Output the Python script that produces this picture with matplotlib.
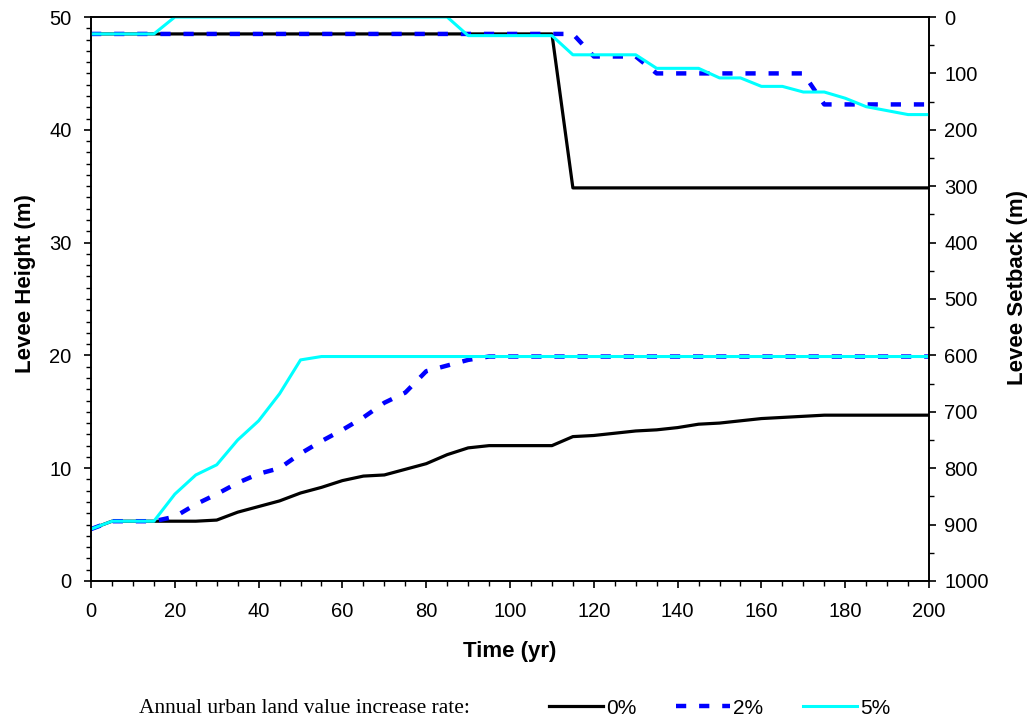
import matplotlib
matplotlib.use("Agg")
import matplotlib.pyplot as plt
from matplotlib.ticker import MultipleLocator
from matplotlib.lines import Line2D

years = list(range(0, 201, 5))

# Levee height (m), left axis
height_0 = [4.6, 5.3, 5.3, 5.3, 5.3, 5.3, 5.4, 6.1, 6.6, 7.1, 7.8, 8.3, 8.9, 9.3, 9.4, 9.9, 10.4,
            11.2, 11.8, 12.0, 12.0, 12.0, 12.0, 12.8, 12.9, 13.1, 13.3, 13.4, 13.6, 13.9, 14.0,
            14.2, 14.4, 14.5, 14.6, 14.7, 14.7, 14.7, 14.7, 14.7, 14.7]
height_2 = [4.6, 5.3, 5.3, 5.3, 5.7, 6.8, 7.7, 8.7, 9.5, 10.0, 11.3, 12.4, 13.4, 14.5, 15.8, 16.7,
            18.6, 19.1, 19.6, 19.9] + [19.9] * 21
height_5 = [4.6, 5.3, 5.3, 5.3, 7.7, 9.4, 10.3, 12.5, 14.2, 16.6, 19.6] + [19.9] * 30

# Levee setback (m), right axis (inverted)
setback_0 = [30] * 23 + [303] * 18
setback_2 = [30] * 24 + [70] * 3 + [100] * 8 + [155] * 6
setback_5 = ([30] * 4 + [0] * 14 + [33] * 5 + [67] * 4 + [91] * 3 + [108] * 2 + [123] * 2 +
             [133] * 2 + [144, 159, 166, 173, 173])

labels = ["0%", "2%", "5%"]
colors = ["black", "#0000FF", "#00FFFF"]

plt.rcParams["font.family"] = ["Liberation Sans", "DejaVu Sans"]

fig = plt.figure(figsize=(10.31, 7.21), dpi=100)
ax = fig.add_axes([0.0883, 0.1942, 0.8128, 0.7822])
ax2 = ax.twinx()

dash = (0, (2.3, 2.9))
styles = [dict(color=colors[0], lw=2.3),
          dict(color=colors[1], lw=3.2, linestyle=dash),
          dict(color=colors[2], lw=2.2)]

for h, s in zip([height_0, height_2, height_5], styles):
    ax.plot(years, h, **s)
for sb, s in zip([setback_0, setback_2, setback_5], styles):
    ax2.plot(years, sb, **s)

ax.set_xlim(0, 200)
ax.set_ylim(0, 50)
ax2.set_ylim(1000, 0)

ax.xaxis.set_major_locator(MultipleLocator(20))
ax.xaxis.set_minor_locator(MultipleLocator(5))
ax.yaxis.set_major_locator(MultipleLocator(10))
ax.yaxis.set_minor_locator(MultipleLocator(1))
ax2.yaxis.set_major_locator(MultipleLocator(100))
ax2.yaxis.set_minor_locator(MultipleLocator(50))

for a in (ax, ax2):
    a.tick_params(which="major", length=5, width=1.2, labelsize=14.5, direction="out")
    a.tick_params(which="minor", length=3.5, width=1.0, direction="out")
    for sp in a.spines.values():
        sp.set_linewidth(1.2)
ax.tick_params(axis="x", which="major", pad=10)
ax.tick_params(axis="y", which="major", pad=9)
ax2.tick_params(axis="y", which="major", pad=6)

ax.set_xlabel("Time (yr)", fontsize=16, fontweight="bold")
ax.xaxis.set_label_coords(0.5, -0.106)
ax.set_ylabel("Levee Height (m)", fontsize=16, fontweight="bold", va="center")
ax.yaxis.set_label_coords(-0.0788, 0.528)
ax2.set_ylabel("Levee Setback (m)", fontsize=16, fontweight="bold", va="center")
ax2.yaxis.set_label_coords(1.106, 0.52)

fig.text(139 / 1031, 1 - 713 / 721, "Annual urban land value increase rate:",
         family="Liberation Serif", fontsize=15.5, va="baseline", ha="left")

handles = [Line2D([], [], **s) for s in styles]
fig.legend(handles, labels, loc="center left", bbox_to_anchor=(530 / 1031, 1 - 708 / 721),
           ncol=3, frameon=False, fontsize=15, handlelength=2.6, handletextpad=0.15,
           columnspacing=1.9)

fig.savefig("out.png", dpi=100)
